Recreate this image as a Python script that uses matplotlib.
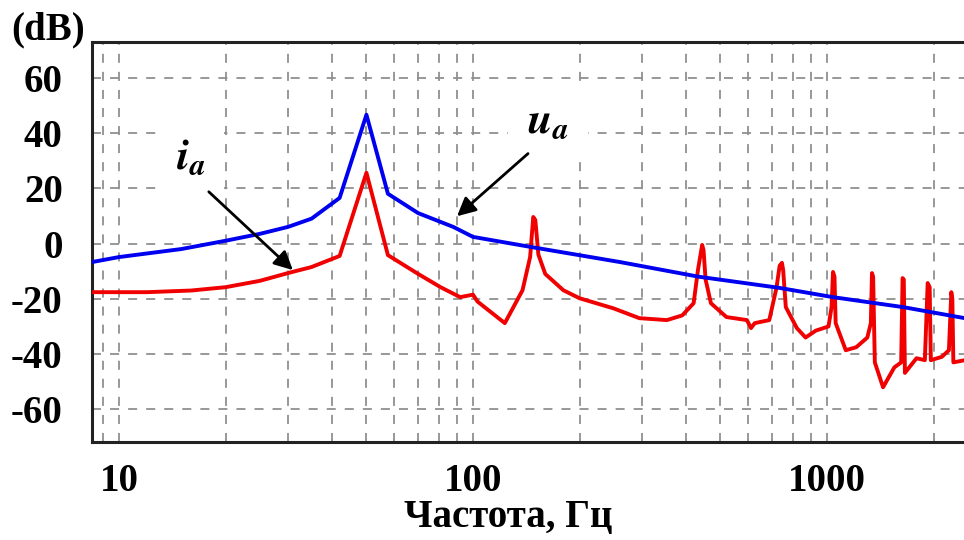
import matplotlib
matplotlib.use("Agg")
import matplotlib.pyplot as plt
from matplotlib.ticker import LogLocator, FixedLocator, NullFormatter

# u_a spectrum (blue)
freq_u = [8.4, 10, 15, 20, 25, 30, 35, 42, 50, 57.5, 70, 88, 100, 145, 260, 434, 730, 1040, 1640, 2450]
db_u = [-6.7, -4.9, -2, 1, 3.5, 6, 9, 16.5, 46.6, 18, 11, 6, 2.4, -1.2, -6.7, -12, -16, -19.4, -23, -27]

# i_a spectrum (red)
freq_i = [8.4, 12, 16, 20, 25, 30, 35, 42, 50, 57.5, 70, 81, 92, 100, 103, 123, 138, 145, 148, 150,
          153, 160, 180, 200, 250, 295, 353, 390, 420, 432, 444, 448, 454, 470, 520, 594, 610, 625,
          687, 720, 735, 746, 752, 765, 822, 870, 930, 1010, 1030, 1040, 1050, 1058, 1130, 1210,
          1300, 1330, 1340, 1350, 1365, 1440, 1550, 1620, 1635, 1648, 1660, 1790, 1890, 1925, 1950,
          1965, 2110, 2210, 2245, 2260, 2275, 2450]
db_i = [-17.6, -17.6, -17, -15.8, -13.5, -10.7, -8.5, -4.5, 25.6, -4.2, -11, -15.8, -19.4, -18.5, -21,
        -28.8, -16.9, -4.9, 9.6, 8.5, -4, -11, -16.9, -19.8, -23.5, -27, -27.7, -26, -21.6, -9.6,
        -0.5, -2.4, -13, -21.6, -26.6, -27.7, -30.6, -28.8, -27.7, -16, -8, -7, -9.6, -23, -30.6,
        -34, -31.5, -30, -23, -10.3, -12, -28.8, -38.6, -37.5, -34, -28.8, -10.7, -12, -43, -52,
        -44.8, -43, -12.5, -13, -46.8, -41.5, -42.2, -14.3, -15.8, -42.2, -41, -38.6, -17.6, -20,
        -43, -42.2]

y_ticks = [-60, -40, -20, 0, 20, 40, 60]
x_ticks = [10, 100, 1000]
x_tick_labels = ["10", "100", "1000"]

plt.rcParams["font.family"] = ["Liberation Serif", "DejaVu Serif"]
plt.rcParams["font.weight"] = "bold"
plt.rcParams["mathtext.fontset"] = "stix"
plt.rcParams["axes.unicode_minus"] = False

fig = plt.figure(figsize=(9.64, 5.4), dpi=100)
ax = fig.add_axes([92 / 964, 1 - 442 / 540, 1 - 92 / 964, 400 / 540])

ax.plot(freq_u, db_u, color="#0000f0", linewidth=2.8, zorder=4)
ax.plot(freq_i, db_i, color="#f00000", linewidth=2.8, zorder=3)

ax.set_xscale("log")
ax.set_xlim(8.39, 2438)
ax.set_ylim(-71.8, 72.9)

ax.xaxis.set_major_locator(FixedLocator(x_ticks))
ax.set_xticklabels(x_tick_labels)
ax.xaxis.set_minor_locator(LogLocator(base=10, subs=range(2, 10)))
ax.xaxis.set_minor_formatter(NullFormatter())
ax.set_yticks(y_ticks)

ax.grid(True, which="both", axis="x", color="#909090", linestyle=(0, (5, 5)), linewidth=1.3)
ax.grid(True, which="major", axis="y", color="#909090", linestyle=(0, (5, 5)), linewidth=1.3)

ax.tick_params(axis="both", which="both", length=0, labelsize=28)
ax.tick_params(axis="x", pad=15)
ax.tick_params(axis="y", pad=21)

for s in ["left", "bottom", "top"]:
    ax.spines[s].set_linewidth(2.2)
    ax.spines[s].set_color("#222222")
ax.spines["right"].set_visible(False)

fig.text(48 / 964, 1 - 30 / 540, "(dB)", fontsize=28, ha="center", va="center")
fig.text(508 / 964, 1 - 518 / 540, "Частота, Гц", fontsize=28, ha="center", va="center")

# labels with arrows
ax.text(15.9, 31, r"$\mathbfit{i}_{\mathbfit{a}}$", fontsize=32, ha="center", va="center",
        bbox=dict(facecolor="white", edgecolor="none", pad=14), zorder=5)
ax.annotate("", xy=(31.4, -10.3), xytext=(17.7, 19.4),
            arrowprops=dict(arrowstyle="-|>", color="black", lw=2, mutation_scale=28), zorder=6)

ax.text(163, 44, r"$\mathbfit{u}_{\mathbfit{a}}$", fontsize=32, ha="center", va="center",
        bbox=dict(facecolor="white", edgecolor="none", pad=14), zorder=5)
ax.annotate("", xy=(88.9, 9.2), xytext=(145, 33.2),
            arrowprops=dict(arrowstyle="-|>", color="black", lw=2, mutation_scale=28), zorder=6)

fig.savefig("out.png", dpi=100)
